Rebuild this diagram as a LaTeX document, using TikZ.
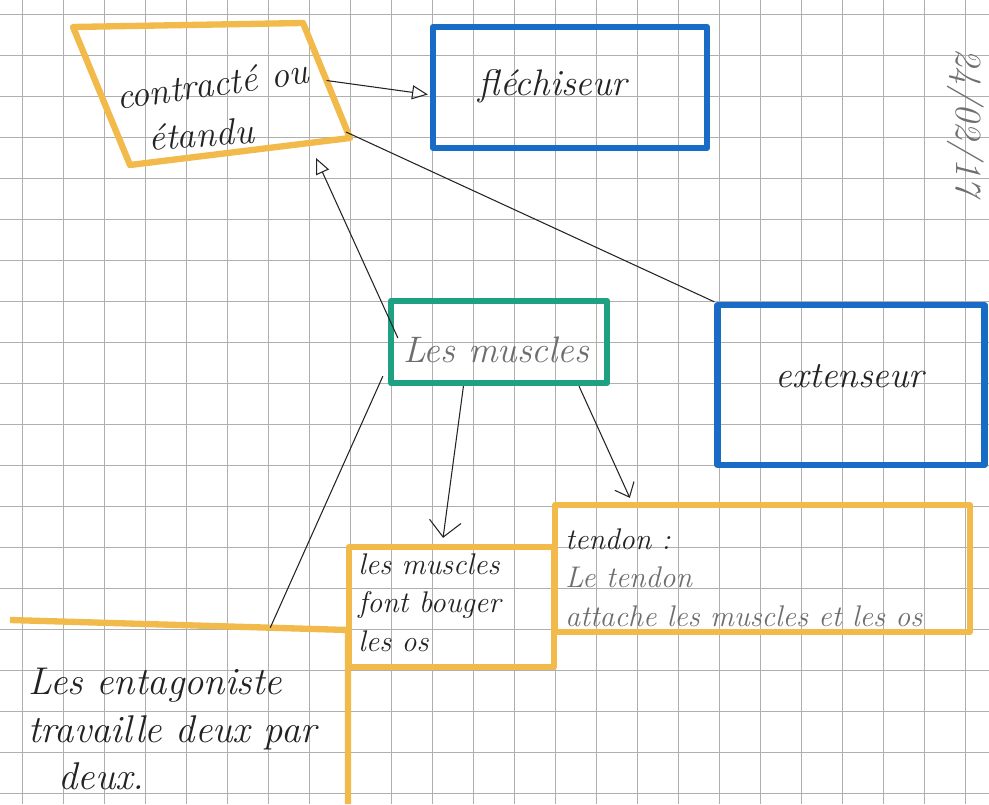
\documentclass[tikz,border=0pt]{standalone}
\usepackage{tikz}
\usetikzlibrary{arrows.meta, calc}
\definecolor{surligne}{RGB}{242, 186, 74}
\definecolor{bleu}{RGB}{24, 108, 198}
\definecolor{vert}{RGB}{30, 160, 130}
\definecolor{grille}{RGB}{175, 175, 175}
\definecolor{crayon}{RGB}{35, 35, 35}
\definecolor{mine}{RGB}{110, 110, 110}

\tikzset{
  cadre/.style={line width=3.6pt, line join=round},
  ecrit/.style={font=\fontsize{21}{26}\selectfont\itshape, text=crayon, inner sep=0pt},
  petit/.style={font=\fontsize{17}{22}\selectfont\itshape, text=mine, inner sep=0pt, align=left},
  fleche/.style={crayon, line width=0.6pt},
}

\begin{document}
\begin{tikzpicture}[x=0.02cm, y=-0.02cm]

  \useasboundingbox (0, 0) rectangle (989, 804);
  \fill[white] (0, 0) rectangle (989, 804);

  % papier quadrille
  \foreach \gx in {22, 63, ..., 989}
    \draw[grille, line width=0.45pt] (\gx, 0) -- (\gx, 804);
  \foreach \gy in {14, 55, ..., 804}
    \draw[grille, line width=0.45pt] (0, \gy) -- (989, \gy);

  % parallelogramme du haut
  \coordinate (p1) at (73, 27);
  \coordinate (p2) at (303, 23);
  \coordinate (p3) at (350, 138);
  \coordinate (p4) at (130, 165);
  \draw[surligne, cadre] (p1) -- (p2) -- (p3) -- (p4) -- cycle;
  \node[ecrit, rotate=8] (contr) at (212, 84) {contract\'e ou};
  \node[ecrit, rotate=4] (etan) at (201, 134) {\'etandu};

  % les boites
  \node[draw=bleu, cadre, minimum width=5.48cm, minimum height=2.42cm] (flechi) at (570, 87.5) {};
  \node[ecrit] (tflechi) at (553, 86) {fl\'echiseur};

  \node[draw=vert, cadre, minimum width=4.32cm, minimum height=1.64cm] (muscles) at (499, 342) {};
  \node[ecrit, text=mine] (tmuscles) at (496, 350) {Les muscles};

  \node[draw=bleu, cadre, minimum width=5.34cm, minimum height=3.2cm] (ext) at (851, 385) {};
  \node[ecrit] (text) at (850, 376) {extenseur};

  \node[draw=surligne, cadre, minimum width=4.1cm, minimum height=2.4cm] (bouger) at (451.5, 607) {};
  \node[petit, anchor=north west, text=crayon] (tbouger) at (358, 553)
    {les muscles\\font bouger\\les os};

  \node[draw=surligne, cadre, minimum width=8.3cm, minimum height=2.54cm] (tendon) at (762.5, 568.5) {};
  \node[petit, anchor=north west] (ttendon) at (565, 528)
    {\textcolor{crayon}{tendon :}\\Le tendon\\attache les muscles et les os};

  % ligne du bas
  \coordinate (l1) at (10, 620);
  \coordinate (l2) at (348, 630);
  \coordinate (l3) at (348, 804);
  \draw[surligne, cadre] (l1) -- (l2) -- (l3);
  \node[ecrit, anchor=north west, align=left, font=\fontsize{22}{27}\selectfont\itshape] (anta) at (28, 668)
    {Les entagoniste\\travaille deux par\\\hspace*{0.6cm}deux.};

  % date
  \node[ecrit, text=mine, rotate=-90] (date) at (966, 122) {24/02/17};

  % fleches
  \draw[fleche, -{Triangle[open, length=9pt, width=8pt]}]
    ($(p2)!0.5!(p3)$) -- ($(flechi.west)+(-2, 7)$);
  \draw[fleche, -{Triangle[open, length=9pt, width=8pt]}]
    ($(muscles.west)+(10, -4)$) -- (316, 158);
  \draw[fleche] ($(p3)+(-4, -6)$) -- (ext.north west);
  \draw[fleche, -{Straight Barb[length=9pt, width=18pt]}]
    ($(muscles.south west)!0.34!(muscles.south east)$) -- ($(bouger.north west)!0.46!(bouger.north east)+(0, -6)$);
  \draw[fleche, -{Straight Barb[length=7pt, width=12pt]}]
    ($(muscles.south west)!0.86!(muscles.south east)$) -- ($(tendon.north west)!0.185!(tendon.north east)+(0, -4)$);
  \draw[fleche] ($(muscles.south west)+(-5, -10)$) -- ($(l1)!0.77!(l2)$);

\end{tikzpicture}
\end{document}
